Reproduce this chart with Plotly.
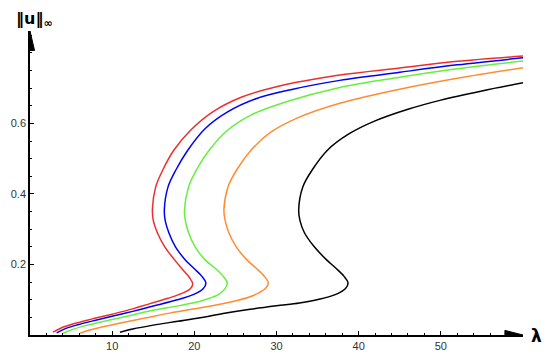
import plotly.graph_objects as go

# branches, in order along each curve (lambda, ||u||)
LAM_RED = [2.8, 3.8, 5.2, 7.5, 10, 12.5, 14.6, 16.8, 18.5, 19.5, 19.8,
           19.4, 18.6, 17.6, 16.4, 15.5, 15.0, 14.9,
           15.3, 16.2, 17.5, 19.6, 22.2, 25.7, 30, 37.7, 45, 52, 60]
U_RED = [0.008, 0.02, 0.031, 0.045, 0.059, 0.074, 0.089, 0.104, 0.118, 0.131, 0.145,
         0.163, 0.185, 0.213, 0.25, 0.29, 0.325, 0.358,
         0.42, 0.47, 0.524, 0.582, 0.632, 0.674, 0.704, 0.737, 0.757, 0.776, 0.791]

LAM_BLUE = [3.25, 4.3, 5.8, 8, 10, 12.5, 15, 17.8, 20.0, 21.1, 21.4,
            20.9, 20.0, 18.9, 17.7, 16.9, 16.45, 16.35,
            16.8, 17.8, 19.2, 21.3, 24, 27.5, 32, 37.7, 45, 52, 60]
U_BLUE = [0.006, 0.018, 0.029, 0.042, 0.053, 0.067, 0.082, 0.099, 0.116, 0.132, 0.148,
          0.167, 0.188, 0.213, 0.25, 0.29, 0.325, 0.355,
          0.42, 0.47, 0.524, 0.585, 0.632, 0.67, 0.697, 0.722, 0.745, 0.766, 0.786]

LAM_GREEN = [4.05, 5.2, 7, 10, 12.5, 15, 18.3, 21, 22.8, 23.7, 24.0,
             23.5, 22.5, 21.3, 20.1, 19.3, 18.9, 18.8,
             19.3, 20.3, 21.8, 24.0, 27, 31, 37.7, 45, 52, 60]
U_GREEN = [0.005, 0.016, 0.028, 0.044, 0.057, 0.07, 0.084, 0.098, 0.113, 0.13, 0.148,
           0.167, 0.19, 0.213, 0.25, 0.29, 0.325, 0.352,
           0.42, 0.47, 0.524, 0.58, 0.625, 0.66, 0.702, 0.731, 0.755, 0.777]

LAM_ORANGE = [6.1, 7.3, 9, 11, 14, 17, 19.5, 22, 24.7, 26.6, 27.9, 28.7, 29.0,
              28.5, 27.5, 26.4, 25.1, 24.2, 23.75, 23.6,
              24.1, 25.2, 26.9, 29.3, 32.5, 37.7, 45, 52, 60]
U_ORANGE = [0.005, 0.014, 0.024, 0.034, 0.048, 0.062, 0.072, 0.082, 0.095, 0.107, 0.12, 0.133, 0.148,
            0.167, 0.19, 0.213, 0.25, 0.29, 0.325, 0.355,
            0.42, 0.47, 0.524, 0.575, 0.615, 0.657, 0.697, 0.728, 0.758]

LAM_BLACK = [10.95, 12.5, 15, 18, 20.7, 23.5, 26.8, 30, 32.8, 35.3, 37.3, 38.4, 38.7,
             38.2, 37.2, 36.1, 34.6, 33.4, 32.85, 32.7,
             33.2, 34.4, 36.2, 38.8, 42, 46, 50, 55, 60]
U_BLACK = [0.008, 0.017, 0.028, 0.039, 0.049, 0.061, 0.073, 0.083, 0.091, 0.102, 0.116, 0.132, 0.148,
           0.167, 0.19, 0.213, 0.25, 0.29, 0.325, 0.355,
           0.42, 0.47, 0.524, 0.57, 0.607, 0.64, 0.666, 0.692, 0.715]

X_TICKS = [10, 20, 30, 40, 50]
Y_TICKS = [0.2, 0.4, 0.6]

X_MAX = 60
Y_MAX = 0.862

curves = [
    (LAM_RED, U_RED, "rgb(240,45,45)"),
    (LAM_BLUE, U_BLUE, "rgb(0,0,245)"),
    (LAM_GREEN, U_GREEN, "rgb(100,240,60)"),
    (LAM_ORANGE, U_ORANGE, "rgb(255,140,50)"),
    (LAM_BLACK, U_BLACK, "black"),
]

fig = go.Figure()
for lam, u, col in curves:
    fig.add_trace(go.Scatter(x=lam, y=u, mode="lines",
                             line=dict(color=col, width=1.5, shape="spline", smoothing=1.0),
                             showlegend=False, hoverinfo="skip"))

tickfont = dict(family="Liberation Sans, Arial", size=11, color="#333")
fig.update_xaxes(range=[0, X_MAX], tickvals=X_TICKS, ticks="inside", ticklen=4,
                 tickcolor="black", showline=True, linecolor="black", linewidth=1.5,
                 showgrid=False, zeroline=False, tickfont=tickfont, automargin=False,
                 minor=dict(dtick=2, tick0=0, ticks="inside", ticklen=2, tickcolor="black"))
fig.update_yaxes(range=[0, Y_MAX], tickvals=Y_TICKS, ticks="inside", ticklen=4,
                 tickcolor="black", showline=True, linecolor="black", linewidth=1.5,
                 showgrid=False, zeroline=False, tickfont=tickfont, automargin=False,
                 minor=dict(dtick=0.05, tick0=0, ticks="inside", ticklen=2, tickcolor="black"))

# arrow heads on both axes
fig.add_shape(type="path", xref="x", yref="y",
              path=f"M {X_MAX-2.2},-0.013 L {X_MAX},0 L {X_MAX-2.2},0.013 Z",
              fillcolor="black", line=dict(color="black", width=1))
fig.add_shape(type="path", xref="x", yref="y",
              path=f"M -0.55,{Y_MAX-0.055} L 0,{Y_MAX} L 0.55,{Y_MAX-0.055} Z",
              fillcolor="black", line=dict(color="black", width=1))

fig.add_annotation(text="<b>λ</b>", xref="paper", yref="paper", x=1.0, y=0,
                   xshift=13, yshift=-1, showarrow=False, xanchor="center", yanchor="middle",
                   font=dict(family="DejaVu Sans", size=17, color="black"))
fig.add_annotation(text="<b>‖u‖<sub>∞</sub></b>", xref="paper", yref="paper", x=0, y=1,
                   xshift=4, yshift=12, showarrow=False, xanchor="center", yanchor="middle",
                   font=dict(family="DejaVu Sans", size=16, color="black"))

# the page body adds an 8px offset, so the figure is 8px smaller on each side
fig.update_layout(width=542, height=347, margin=dict(l=22, r=27, t=23, b=20),
                  plot_bgcolor="white", paper_bgcolor="white")

fig.write_html("out.html")
